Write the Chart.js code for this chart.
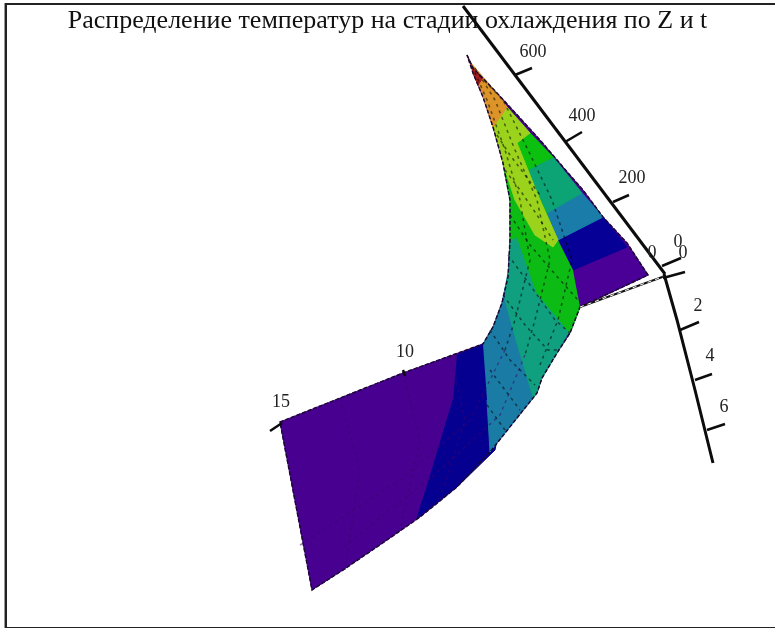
<!DOCTYPE html>
<html>
<head>
<meta charset="utf-8">
<style>
  html, body { margin: 0; background: #fff; overflow: hidden; }
  #frame { position: absolute; left: 5px; top: 3px; right: 0; width: 770px; height: 622px; border: 2px solid #222; border-right: 0; box-shadow: -1px 0 0 #999; }
  #wrap { position: absolute; left: 0; top: 0; width: 775px; height: 628px; }
  canvas { display: block; }
</style>
</head>
<body>
<div id="frame"></div>
<div id="wrap"><canvas id="surface" width="775" height="628"></canvas></div>
<script src="https://cdn.jsdelivr.net/npm/chart.js@4/dist/chart.umd.min.js"></script>
<script>
"use strict";

const titleText = 'Распределение температур на стадии охлаждения по Z и t';

// Axis labels
const tempTickLabels = ['600', '400', '200', '0'];
const tempLabelAt = [[533, 52], [582, 116], [632, 178], [678, 242]];
const timeTickLabels = ['0', '2', '4', '6'];
const timeLabelAt = [[683, 253], [698, 306], [710, 356], [724, 407]];
const depthTickLabels = ['0', '10', '15'];
const depthLabelAt = [[652, 253], [405, 352], [281, 402]];

// Axis lines and tick marks
const tempAxis = [[463, 6], [665, 274]];
const timeAxis = [[664, 274], [677, 320], [695, 390], [713, 463]];
const tempTicks = [[[515, 75], [532, 68]], [[565, 142], [582, 132]], [[613, 202], [629, 195]], [[662, 266], [681, 258]]];
const timeTicks = [[[663, 278], [685, 272]], [[680, 330], [699, 322]], [[695, 380], [712, 374]], [[707, 430], [725, 424]]];
const depthTicks = [[[270, 431], [282, 423]], [[403, 370], [405, 376]]];
const baseEdge = [[580, 307], [665, 276]];

// Colour bands of the surface, back to front
const outline = [[467, 55], [473, 68], [497, 93], [520, 118], [540, 140], [563, 167], [583, 190], [603, 217], [627, 243], [648, 275], [580, 307],
    [570, 333], [557, 353], [542, 378], [537, 393], [513, 423], [490, 452], [457, 487], [420, 517], [387, 540], [343, 570], [312, 590],
    [280, 422], [403, 373], [483, 344], [493, 327], [502, 303], [508, 277], [510, 240], [510, 200], [503, 163], [493, 127], [483, 97], [473, 73]];
const blueLow = [[457, 355], [483, 344], [495, 345], [505, 400], [495, 450], [457, 487], [417, 518], [430, 477], [453, 400]];
const steelLow = [[483, 344], [493, 327], [502, 303], [508, 273], [512, 300], [517, 343], [533, 397], [537, 393], [513, 423], [490, 452], [487, 400]];
const tealMid = [[510, 240], [517, 237], [537, 293], [570, 330], [557, 353], [542, 378], [537, 393], [533, 397], [517, 343], [505, 300], [508, 273]];
const greenBulge = [[510, 200], [503, 163], [520, 147], [558, 240], [573, 270], [580, 307], [570, 333], [537, 293], [517, 237], [510, 240]];
const limeStripe = [[493, 127], [507, 107], [530, 133], [517, 143], [540, 200], [558, 240], [553, 247], [535, 235], [515, 200], [502, 160]];
const greenUp = [[517, 143], [530, 133], [553, 157], [527, 170]];
const tealUp = [[527, 170], [553, 157], [582, 193], [547, 213]];
const steelUp = [[547, 213], [582, 193], [603, 217], [558, 240]];
const blueUp = [[558, 240], [603, 217], [627, 247], [573, 270]];
const purpleUp = [[573, 270], [627, 247], [648, 275], [580, 307]];
const orangeTip = [[473, 73], [470, 62], [497, 93], [507, 107], [493, 127], [483, 97]];
const redTip = [[467, 55], [473, 68], [483, 78], [478, 85], [473, 73]];

// Mesh lines on the surface
const meshDark = [
    [[472, 66], [487, 100], [505, 150], [520, 200], [530, 260], [515, 320], [505, 350]],
    [[475, 68], [495, 100], [515, 150], [537, 200], [550, 260], [535, 320], [525, 355]],
    [[480, 76], [503, 100], [528, 150], [552, 200], [572, 260], [558, 320], [540, 365]],
    [[497, 135], [510, 155], [525, 175], [540, 195]],
    [[505, 170], [520, 190], [535, 212], [553, 240]],
    [[510, 215], [530, 245], [560, 280], [578, 300]],
    [[508, 255], [530, 285], [555, 320], [570, 333]],
    [[503, 295], [525, 325], [548, 350], [560, 350]],
    [[490, 330], [510, 360], [535, 385]],
    [[490, 370], [505, 390], [520, 410]],
    [[487, 405], [505, 430]]
];
const meshFaint = [
    [[505, 350], [470, 420], [400, 480], [300, 545]],
    [[525, 355], [500, 415], [440, 470], [340, 550]],
    [[450, 355], [465, 420], [440, 500]],
    [[403, 373], [420, 440], [400, 530]],
    [[340, 398], [360, 470], [345, 570]]
];

var polygonSet = function (points, color) {
    return {
        data: points.map(p => ({ x: p[0], y: p[1] })),
        showLine: true,
        fill: 'shape',
        backgroundColor: color,
        borderColor: color,
        borderWidth: 1,
        pointRadius: 0,
        clip: false,
        tension: 0
    };
};

var lineSet = function (points, color, width, dash) {
    return {
        data: points.map(p => ({ x: p[0], y: p[1] })),
        showLine: true,
        fill: false,
        borderColor: color,
        borderWidth: width,
        borderDash: dash || [],
        pointRadius: 0,
        clip: false,
        tension: 0
    };
};

// Painted from the last dataset to the first, so the top layers go first
var datasets = [];
tempTicks.concat(timeTicks, depthTicks).forEach(t => datasets.push(lineSet(t, '#0c0c0c', 2.5)));
datasets.push(lineSet(tempAxis, '#0c0c0c', 3));
datasets.push(lineSet(timeAxis, '#0c0c0c', 3));
datasets.push(lineSet(baseEdge, '#ffffff', 1, [4, 4]));
datasets.push(lineSet(baseEdge, '#111111', 2));
datasets.push(lineSet(outline.concat([outline[0]]), '#1a0a30', 1.5, [4, 2]));
meshDark.forEach(m => datasets.push(lineSet(m, 'rgba(0,0,0,0.55)', 1.5, [3, 4])));
meshFaint.forEach(m => datasets.push(lineSet(m, 'rgba(60,0,110,0.5)', 1.5, [3, 4])));
datasets.push(polygonSet(redTip, '#a5201c'));
datasets.push(polygonSet(orangeTip, '#dc9428'));
datasets.push(polygonSet(limeStripe, '#9ad21c'));
datasets.push(polygonSet(greenUp, '#0cc010'));
datasets.push(polygonSet(tealUp, '#0ca474'));
datasets.push(polygonSet(steelUp, '#1a7ca8'));
datasets.push(polygonSet(blueUp, '#060096'));
datasets.push(polygonSet(purpleUp, '#4a0096'));
datasets.push(polygonSet(greenBulge, '#0cbc14'));
datasets.push(polygonSet(tealMid, '#10a080'));
datasets.push(polygonSet(steelLow, '#1a7ca4'));
datasets.push(polygonSet(blueLow, '#060090'));
datasets.push(polygonSet(outline, '#480090'));

// Tick labels go through the same scales as the marks
var axisLabels = {
    id: 'axisLabels',
    afterDatasetsDraw: function (chart) {
        var ctx = chart.ctx;
        var xs = chart.scales.x;
        var ys = chart.scales.y;
        ctx.save();
        ctx.font = '18px "Liberation Serif"';
        ctx.fillStyle = '#222';
        ctx.textAlign = 'center';
        ctx.textBaseline = 'middle';
        [[tempTickLabels, tempLabelAt], [timeTickLabels, timeLabelAt], [depthTickLabels, depthLabelAt]].forEach(function (group) {
            group[0].forEach(function (label, i) {
                ctx.fillText(label, xs.getPixelForValue(group[1][i][0]), ys.getPixelForValue(group[1][i][1]));
            });
        });
        ctx.restore();
    }
};

// Height the title takes out of the chart area: 26 * 1.2 + 10 of padding
const titleBox = 41.2;

new Chart(document.getElementById('surface'), {
    type: 'scatter',
    data: { datasets: datasets },
    plugins: [axisLabels],
    options: {
        responsive: false,
        animation: false,
        events: [],
        layout: { padding: 0 },
        scales: {
            x: { display: false, min: 0, max: 775 },
            y: { display: false, reverse: true, min: titleBox, max: 628 }
        },
        plugins: {
            legend: { display: false },
            tooltip: { enabled: false },
            title: {
                display: true,
                text: titleText,
                color: '#111',
                font: { family: '"Liberation Serif"', size: 26, weight: 'normal', lineHeight: 1.2 },
                padding: { top: 6, bottom: 4 }
            }
        }
    }
});
</script>
</body>
</html>
